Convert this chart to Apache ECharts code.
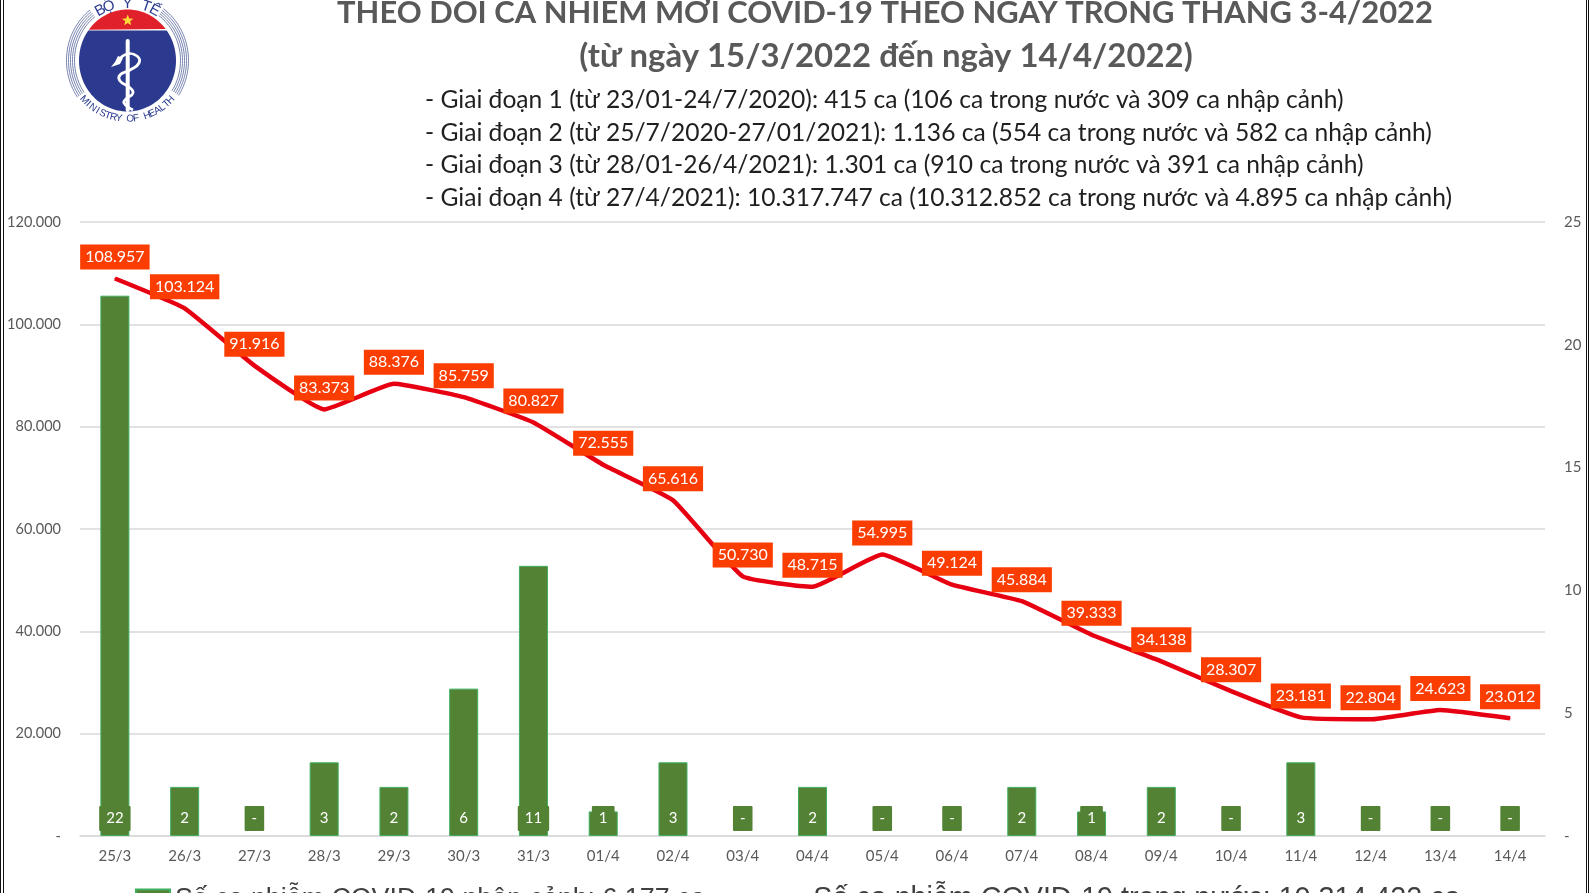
<!DOCTYPE html>
<html>
<head>
<meta charset="utf-8">
<style>
html, body { margin: 0; padding: 0; background: #fff; overflow: hidden; }
#chart { width: 1589px; height: 893px; }
</style>
<script src="https://cdn.jsdelivr.net/npm/echarts@6/dist/echarts.min.js"></script>
</head>
<body>
<div id="chart"></div>
<script>
const days = ['25/3', '26/3', '27/3', '28/3', '29/3', '30/3', '31/3', '01/4', '02/4', '03/4', '04/4', '05/4', '06/4', '07/4', '08/4', '09/4', '10/4', '11/4', '12/4', '13/4', '14/4']
const domesticCases = [108957, 103124, 91916, 83373, 88376, 85759, 80827, 72555, 65616, 50730, 48715, 54995, 49124, 45884, 39333, 34138, 28307, 23181, 22804, 24623, 23012]
const importedCases = [22, 2, 0, 3, 2, 6, 11, 1, 3, 0, 2, 0, 0, 2, 1, 2, 0, 3, 0, 0, 0]
const titleLines = ['THEO DÕI CA NHIỄM MỚI COVID-19 THEO NGÀY TRONG THÁNG 3-4/2022', '(từ ngày 15/3/2022 đến ngày 14/4/2022)']
const phases = [
    '- Giai đoạn 1 (từ 23/01-24/7/2020): 415 ca (106 ca trong nước và 309 ca nhập cảnh)',
    '- Giai đoạn 2 (từ 25/7/2020-27/01/2021): 1.136 ca (554 ca trong nước và 582 ca nhập cảnh)',
    '- Giai đoạn 3 (từ 28/01-26/4/2021): 1.301 ca (910 ca trong nước và 391 ca nhập cảnh)',
    '- Giai đoạn 4 (từ 27/4/2021): 10.317.747 ca (10.312.852 ca trong nước và 4.895 ca nhập cảnh)'
]
const importedName = 'Số ca nhiễm COVID-19 nhập cảnh: 6.177 ca'
const domesticName = 'Số ca nhiễm COVID-19 trong nước: 10.314.422 ca'

const FONT = 'Lato'
const dotted = v => v === 0 ? '-' : String(v).replace(/\B(?=(\d{3})+$)/g, '.')

// logo, drawn as plain shapes (graphic has no path type)
const cx = 127.5, cy = 60.5, rx = 48.5, ry = 51
function ellipsePoints(a, b, from, to) {
    const pts = []
    for (let d = from; d <= to; d += 3) {
        const t = d * Math.PI / 180
        pts.push([cx + a * Math.sin(t), cy - b * Math.cos(t)])
    }
    return pts
}
function logo() {
    const items = []
    items.push({ type: 'polygon', shape: { points: ellipsePoints(rx, ry, -53, 53) }, style: { fill: '#e0202a' } })
    items.push({ type: 'polygon', shape: { points: ellipsePoints(rx, ry, 54, 306) }, style: { fill: '#2b3a8e' } })
    ;[53, 55, 57, 59, 61].forEach(r => {
        items.push({ type: 'polyline', shape: { points: ellipsePoints(r, r * 1.05, 36, 125) }, style: { fill: 'none', stroke: '#56659b', lineWidth: 0.8 } })
        items.push({ type: 'polyline', shape: { points: ellipsePoints(r, r * 1.05, -125, -36) }, style: { fill: 'none', stroke: '#56659b', lineWidth: 0.8 } })
    })
    // star
    const star = []
    for (let i = 0; i < 10; i++) {
        const r = i % 2 ? 2.6 : 6, t = i * Math.PI / 5
        star.push([127.7 + r * Math.sin(t), 20.5 - r * Math.cos(t)])
    }
    items.push({ type: 'polygon', shape: { points: star }, style: { fill: '#ffd83a' } })
    // staff and snake
    items.push({ type: 'line', shape: { x1: 127.7, y1: 41, x2: 127.7, y2: 110 }, style: { stroke: '#fff', lineWidth: 4, lineCap: 'round' } })
    items.push({
        type: 'polyline',
        shape: { smooth: 0.5, points: [[118, 61], [127, 54], [137, 56], [139, 63], [130, 70], [120, 75], [120, 81], [129, 87], [133, 93], [126, 99], [124, 103], [133, 110]] },
        style: { fill: 'none', stroke: '#fff', lineWidth: 2.8 }
    })
    items.push({ type: 'polygon', shape: { points: [[111, 67], [115, 62], [118, 56], [123, 58], [120, 64]] }, style: { fill: '#fff' } })
    // curved lettering
    const curved = (txt, mid, step, r, up, size) => {
        txt.split('').forEach((ch, i) => {
            const deg = mid + (i - (txt.length - 1) / 2) * step * (up ? 1 : -1), t = deg * Math.PI / 180
            items.push({
                type: 'text',
                x: cx + r * Math.sin(t),
                y: cy - r * Math.cos(t),
                rotation: (up ? -deg : 180 - deg) * Math.PI / 180,
                style: { text: ch, fill: '#2b3a8e', font: `${size}px "Liberation Sans"`, textAlign: 'center', textVerticalAlign: 'middle' }
            })
        })
    }
    curved('BỘ Y TẾ', 0, 9.5, 57, true, 15)
    curved('MINISTRY OF HEALTH', 180, 5.6, 58.5, false, 10)
    return items
}

const chart = echarts.init(document.getElementById('chart'), null, { renderer: 'canvas' })
chart.setOption({
    animation: false,
    backgroundColor: '#fff',
    title: [
        { text: titleLines[0], left: 880, textAlign: 'center', top: -7, textStyle: { fontFamily: FONT, fontWeight: 'bold', fontSize: 30.9, color: '#595959' } },
        { text: titleLines[1], left: 881, textAlign: 'center', top: 35, textStyle: { fontFamily: FONT, fontWeight: 'bold', fontSize: 32.9, color: '#595959' } },
        ...phases.map((p, i) => ({ text: p, left: 420, top: [83, 116, 148, 181][i], textStyle: { fontFamily: FONT, fontWeight: 'normal', fontSize: 24.6, color: '#1f1f1f' } }))
    ],
    legend: {
        left: 130,
        top: 880,
        itemWidth: 34,
        itemHeight: 20,
        itemGap: 68,
        textStyle: { fontFamily: 'Liberation Sans', fontSize: 26.8, color: '#404040' },
        data: [
            { name: importedName, icon: 'rect' },
            { name: domesticName, itemStyle: { opacity: 0 }, textStyle: { fontSize: 28.7 } }
        ]
    },
    grid: { left: 80, right: 44, top: 222, bottom: 57 },
    xAxis: {
        type: 'category',
        data: days,
        axisLine: { lineStyle: { color: '#d9d9d9', width: 1.5 } },
        axisTick: { show: false },
        axisLabel: { fontFamily: FONT, fontSize: 15, color: '#595959', margin: 13 }
    },
    yAxis: [
        {
            type: 'value', min: 0, max: 120000, interval: 20000,
            axisLine: { show: false }, axisTick: { show: false },
            splitLine: { lineStyle: { color: '#d9d9d9', width: 1.5 } },
            axisLabel: { fontFamily: FONT, fontSize: 14.5, color: '#595959', margin: 19, formatter: dotted }
        },
        {
            type: 'value', min: 0, max: 25, interval: 5,
            axisLine: { show: false }, axisTick: { show: false }, splitLine: { show: false },
            axisLabel: { fontFamily: FONT, fontSize: 15, color: '#595959', margin: 19, formatter: dotted }
        }
    ],
    series: [
        {
            name: importedName,
            type: 'bar',
            yAxisIndex: 1,
            data: importedCases.map(v => v === 0 ? { value: v, itemStyle: { borderWidth: 0 } } : v),
            barWidth: 29,
            itemStyle: { color: '#548235', borderColor: '#3fae5f', borderWidth: 1 },
            label: {
                show: true,
                position: 'insideBottom',
                distance: 5,
                formatter: p => dotted(p.value),
                fontFamily: FONT,
                fontSize: 15,
                color: '#fff',
                backgroundColor: '#548235',
                borderRadius: 1,
                padding: [5, 7],
                lineHeight: 15
            }
        },
        {
            name: domesticName,
            type: 'line',
            data: domesticCases,
            smooth: 0.12,
            showSymbol: true,
            showAllSymbol: true,
            symbol: 'circle',
            symbolSize: 1,
            lineStyle: { color: '#e60012', width: 4.5 },
            itemStyle: { color: '#e60012' },
            label: {
                show: true,
                position: 'top',
                distance: 8.5,
                formatter: p => dotted(p.value),
                fontFamily: FONT,
                fontSize: 16,
                color: '#fff',
                backgroundColor: '#fb3d02',
                padding: [5, 5],
                lineHeight: 15
            }
        }
    ],
    graphic: [
        ...logo(),
        { type: 'rect', shape: { x: 0, y: 0, width: 1, height: 893 }, style: { fill: '#111' }, silent: true },
        { type: 'rect', shape: { x: 3, y: 0, width: 1, height: 893 }, style: { fill: '#111' }, silent: true },
        { type: 'rect', shape: { x: 1586, y: 0, width: 1, height: 893 }, style: { fill: '#111' }, silent: true },
        { type: 'rect', shape: { x: 1588, y: 0, width: 1, height: 893 }, style: { fill: '#111' }, silent: true }
    ]
})
</script>
</body>
</html>
